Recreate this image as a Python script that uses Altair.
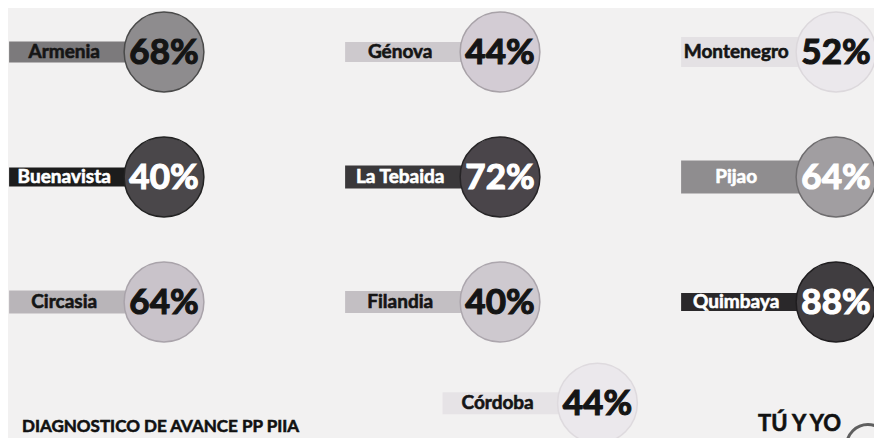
import altair as alt
import pandas as pd

# --- data ---
municipios = ["Armenia", "Génova", "Montenegro", "Buenavista", "La Tebaida",
              "Pijao", "Circasia", "Filandia", "Quimbaya", "Córdoba"]
avance = [68, 44, 52, 40, 72, 64, 64, 40, 88, 44]

# --- layout (grid column / row of each badge) ---
col = [0, 1, 2, 0, 1, 2, 0, 1, 2, 1.29]
row = [0, 0, 0, 1, 1, 1, 2, 2, 2, 2.81]

# --- styles ---
circle_fill = ["#8e8c8e", "#d3ccd4", "#ebe8ec", "#4a474a", "#4a454a",
               "#a19ea1", "#c9c3ca", "#cec9cf", "#403d40", "#ebe8ec"]
circle_edge = ["#4a4a4a", "#a8a2a8", "#dcd8dc", "#222222", "#262426",
               "#6e6c6e", "#a9a3aa", "#aca6ad", "#1f1d1f", "#dedade"]
bar_fill = ["#7c7a7c", "#cdc9cd", "#e4e1e4", "#1c1c1c", "#3a383a",
            "#8f8d8f", "#b9b5b9", "#c3bfc3", "#2a282a", "#e6e3e6"]
bar_h = [21, 20, 30, 19, 23, 33, 23, 22, 18, 22]
text_color = ["#151515", "#151515", "#151515", "#ffffff", "#ffffff",
              "#ffffff", "#151515", "#151515", "#ffffff", "#151515"]

df = pd.DataFrame({
    "municipio": municipios,
    "avance": avance,
    "col": col,
    "row": row,
    "cfill": circle_fill,
    "cedge": circle_edge,
    "bfill": bar_fill,
    "bh": bar_h,
    "tcol": text_color,
})

footer = pd.DataFrame({
    "txt": ["DIAGNOSTICO DE AVANCE  PP PIIA", "TÚ Y YO"],
    "col": [-0.4226, 1.768],
    "row": [3.07, 3.07],
    "size": [17, 22],
})
logo = pd.DataFrame({"col": [2.095], "row": [3.15]})

xs = alt.Scale(domain=[-0.4643, 2.1131], nice=False, zero=False)
ys = alt.Scale(domain=[-0.352, 3.088], nice=False, zero=False, reverse=True)

base = alt.Chart(df)

bars = base.transform_calculate(
    x0="datum.col - 0.461"
).mark_rule(strokeCap="butt").encode(
    x=alt.X("x0:Q", scale=xs, axis=None),
    x2="col:Q",
    y=alt.Y("row:Q", scale=ys, axis=None),
    color=alt.Color("bfill:N", scale=None),
    strokeWidth=alt.StrokeWidth("bh:Q", scale=None),
)

circles = base.mark_point(shape="circle", filled=True, size=6362,
                          opacity=1, strokeWidth=1.5).encode(
    x=alt.X("col:Q", scale=xs, axis=None),
    y=alt.Y("row:Q", scale=ys, axis=None),
    fill=alt.Fill("cfill:N", scale=None),
    stroke=alt.Stroke("cedge:N", scale=None),
)

names = base.transform_calculate(
    lx="datum.col - 0.297"
).mark_text(font="Lato", fontWeight="bold", fontSize=19,
            align="center", baseline="middle", strokeWidth=0.6).encode(
    x=alt.X("lx:Q", scale=xs, axis=None),
    y=alt.Y("row:Q", scale=ys, axis=None),
    text="municipio:N",
    fill=alt.Fill("tcol:N", scale=None),
    stroke=alt.Stroke("tcol:N", scale=None),
)

pcts = base.transform_calculate(
    lab="datum.avance + '%'"
).mark_text(font="Lato", fontWeight="bold", fontSize=35,
            align="center", baseline="middle", dy=1, strokeWidth=1.2).encode(
    x=alt.X("col:Q", scale=xs, axis=None),
    y=alt.Y("row:Q", scale=ys, axis=None),
    text="lab:N",
    fill=alt.Fill("tcol:N", scale=None),
    stroke=alt.Stroke("tcol:N", scale=None),
)

foot = alt.Chart(footer).mark_text(font="Lato", fontWeight="bold",
                                   align="left", baseline="bottom",
                                   color="#111111", stroke="#111111",
                                   strokeWidth=0.6).encode(
    x=alt.X("col:Q", scale=xs, axis=None),
    y=alt.Y("row:Q", scale=ys, axis=None),
    text="txt:N",
    size=alt.Size("size:Q", scale=None),
)

logo_mark = alt.Chart(logo).mark_point(shape="circle", filled=False,
                                       size=1810, stroke="#222222",
                                       strokeWidth=3, clip=True).encode(
    x=alt.X("col:Q", scale=xs, axis=None),
    y=alt.Y("row:Q", scale=ys, axis=None),
)

chart = alt.layer(bars, circles, names, pcts, foot, logo_mark).properties(
    width=866, height=430, padding=0, autosize="none",
    background="#f2f1f1",
).configure_view(stroke=None)

chart.save("out.html", embed_options={"renderer": "svg", "actions": False})
